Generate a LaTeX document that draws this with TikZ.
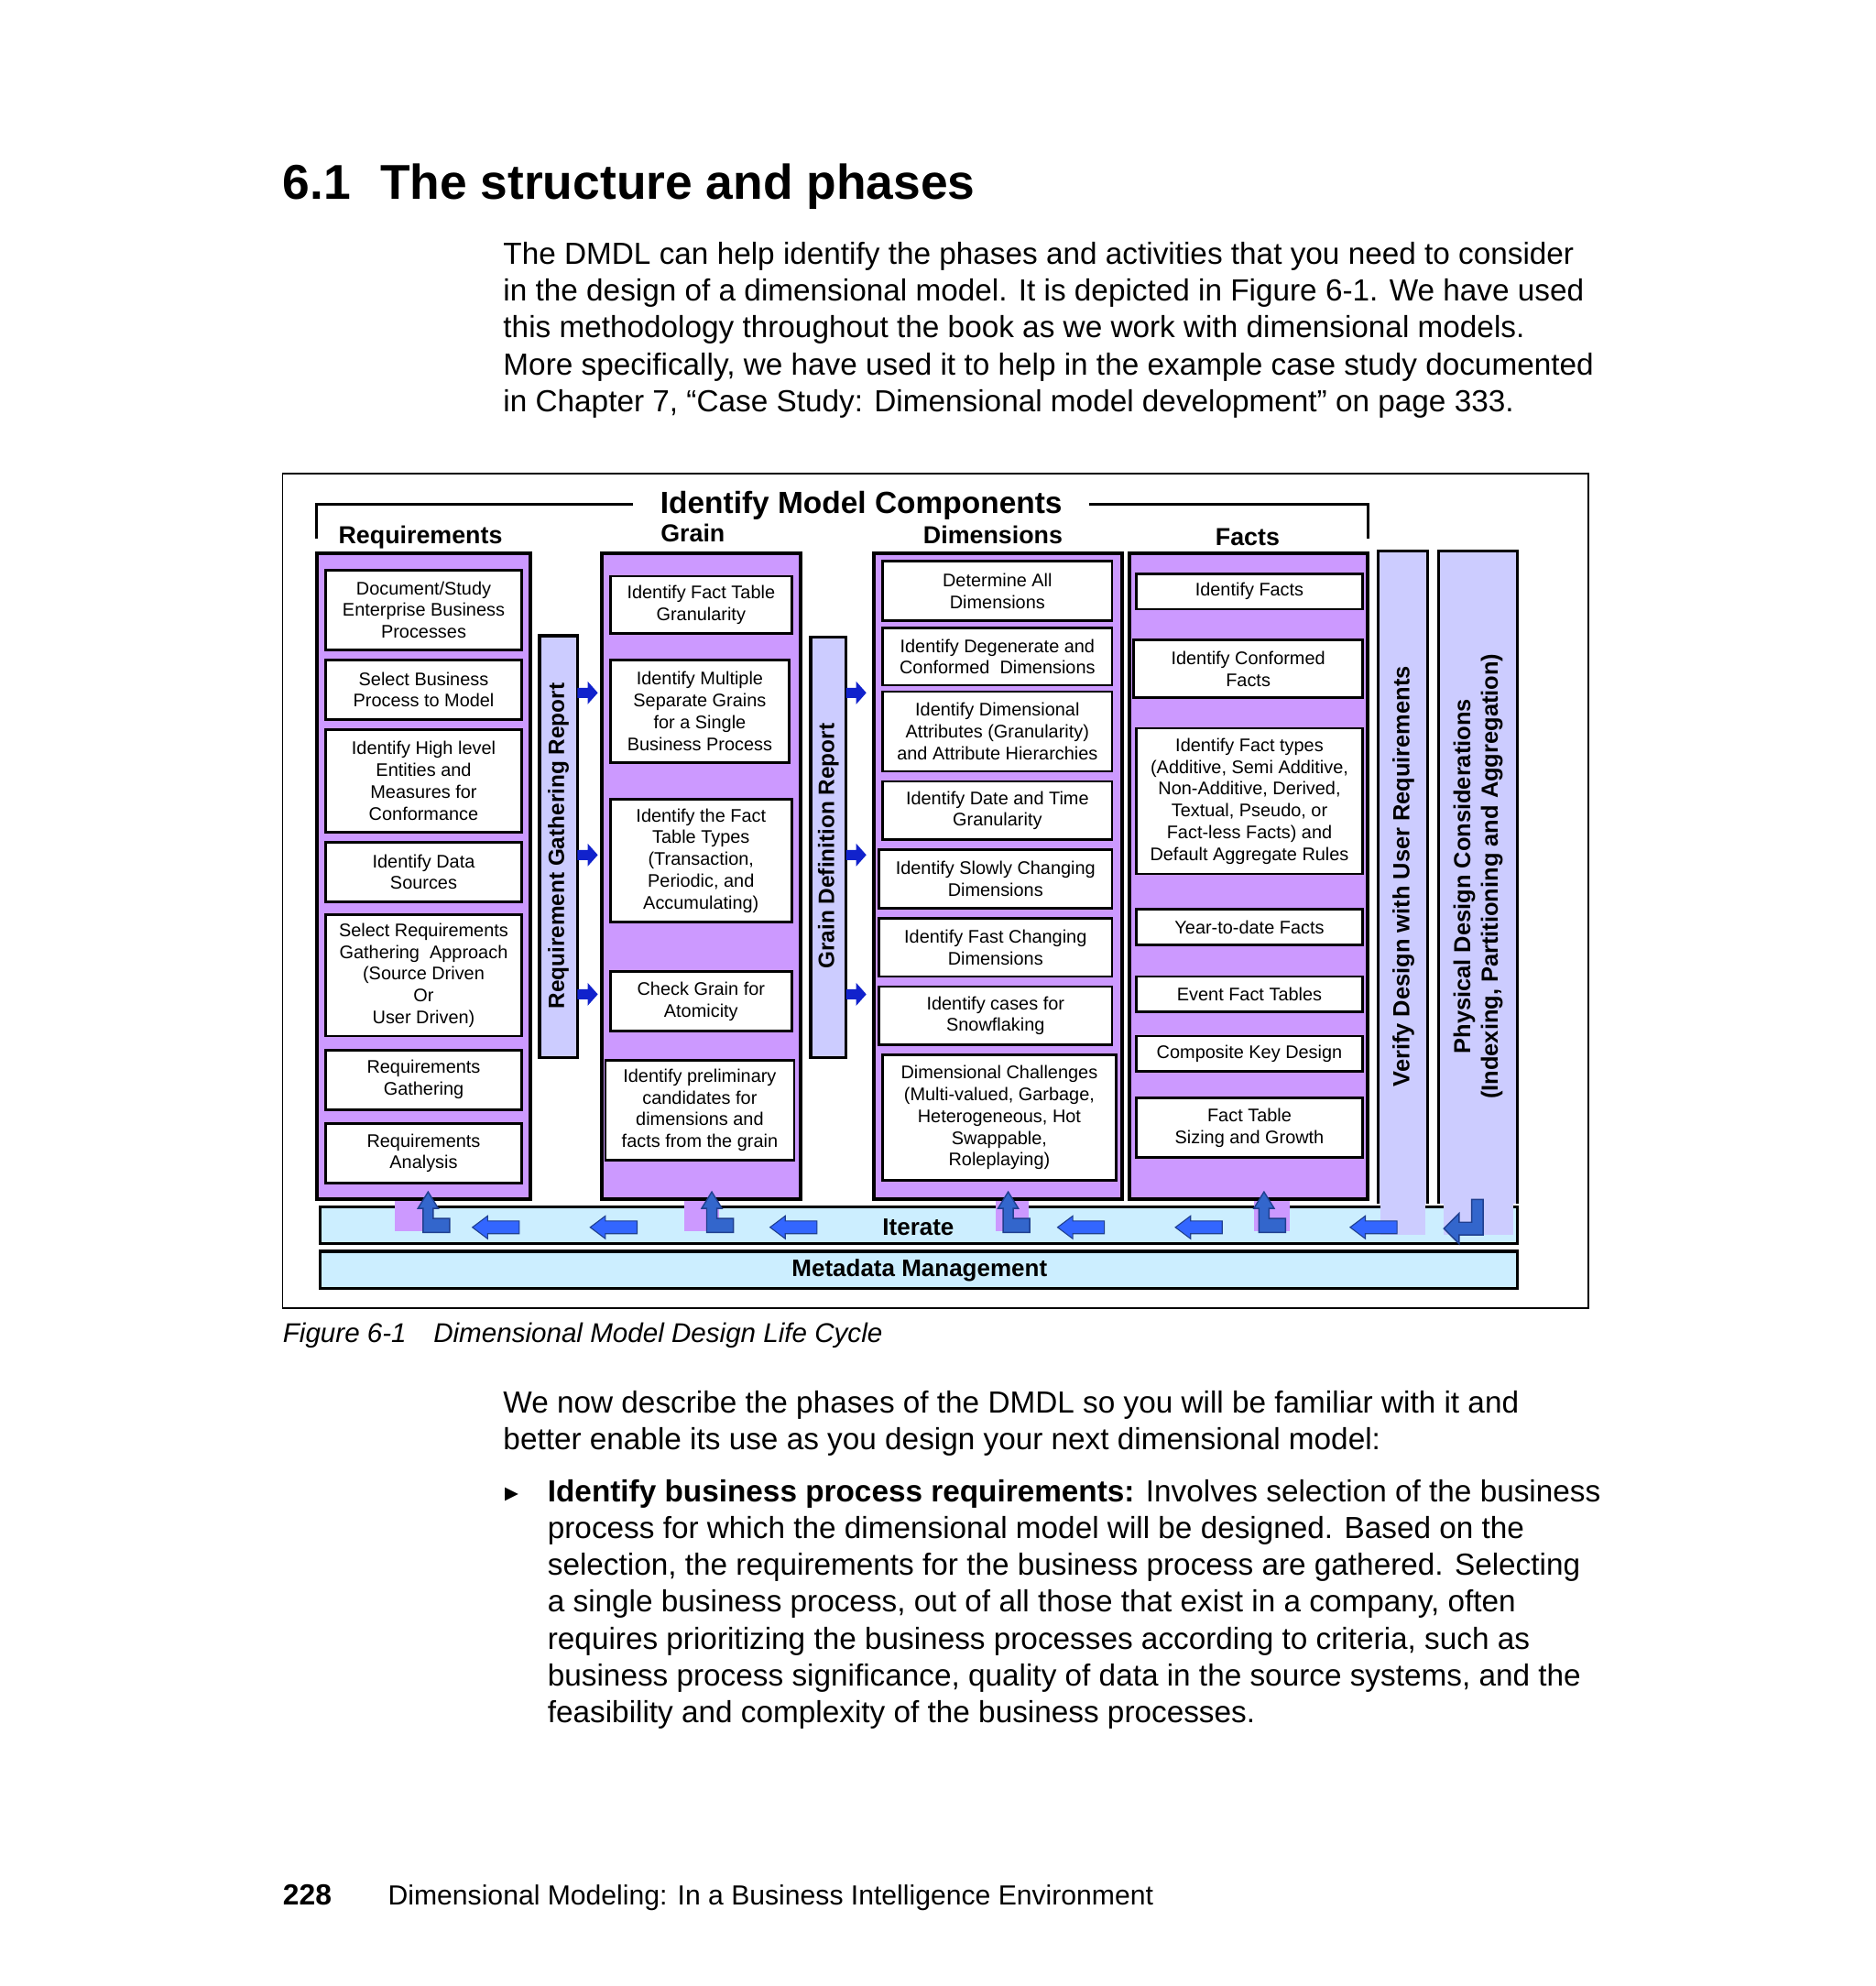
\documentclass[tikz,border=0pt]{standalone}
\usepackage{fontspec}
\setmainfont{Liberation Sans}
\newfontfamily\symf{DejaVu Sans}
\begin{document}
\begin{tikzpicture}[x=0.5pt,y=-0.5pt,
  col/.style={draw=black,line width=1.4pt,fill=purp},
  bar/.style={draw=black,line width=1.2pt,fill=lav},
  bxs/.style={draw=black,line width=1pt,fill=white},
  bt/.style={font=\fontsize{7.2}{8.6}\selectfont,align=center,inner sep=0pt},
  hd/.style={font=\fontsize{9.7}{10}\selectfont\bfseries,inner sep=0pt},
  vt/.style={font=\fontsize{8.8}{10}\selectfont\bfseries,rotate=90,align=center,inner sep=0pt},
  body/.style={font=\fontsize{12.05}{14.5}\selectfont,align=left,anchor=north west,inner sep=0pt},
  larr/.style={fill=arrb,draw=arrd,line width=0.4pt},
  larrL/.style={fill=arrL,draw=arrd,line width=0.5pt},
  rarr/.style={fill=darkb,draw=none}]
\definecolor{purp}{HTML}{CC99FF}
\definecolor{lav}{HTML}{CCCCFF}
\definecolor{lblue}{HTML}{CCEEFF}
\definecolor{arrb}{HTML}{3366FF}
\definecolor{arrL}{HTML}{3366CC}
\definecolor{arrd}{HTML}{1F3F8F}
\definecolor{darkb}{HTML}{1122CC}
\useasboundingbox (0,0) rectangle (1481,1568);
\fill[white] (0,0) rectangle (1481,1568);
% title and text
\node[anchor=base west,inner sep=0pt,font=\fontsize{19.3}{22}\selectfont\bfseries] (title) at (223,157) {6.1\hspace{0.6em}The structure and phases};
\node[body] (p1) at (397,191) {The DMDL can help identify the phases and activities that you need to consider\\in the design of a dimensional model. It is depicted in Figure 6-1. We have used\\this methodology throughout the book as we work with dimensional models.\\More specifically, we have used it to help in the example case study documented\\in Chapter 7, “Case Study: Dimensional model development” on page 333.};
% frame
\draw[line width=0.6pt] (223,374) rectangle (1254,1033);
\draw[line width=1pt] (250,425) -- (250,398) -- (500,398);
\draw[line width=1pt] (860,398) -- (1080,398) -- (1080,425);
\node[inner sep=0pt,font=\fontsize{12.1}{13}\selectfont\bfseries] (imc) at (680,399) {Identify Model Components};
\node[hd] (hreq) at (332,424) {Requirements};
\node[hd] (hgr) at (547,421) {Grain};
\node[hd] (hdim) at (784,422) {Dimensions};
\node[hd] (hfact) at (985,424) {Facts};
% iterate & metadata bars
\draw[line width=1.2pt,fill=lblue] (253,953) rectangle (1198,982);
\draw[line width=1.2pt,fill=lblue] (253,988) rectangle (1198,1017);
\node[inner sep=0pt,font=\fontsize{9.4}{10}\selectfont\bfseries] (iter) at (725,969) {Iterate};
\node[inner sep=0pt,font=\fontsize{9.4}{10}\selectfont\bfseries] (meta) at (726,1003) {Metadata Management};
% stubs
\fill[purp] (312,945) rectangle (340,972);
\fill[purp] (540,945) rectangle (568,972);
\fill[purp] (786,945) rectangle (812,972);
\fill[purp] (990,945) rectangle (1018,972);
\fill[lav] (1090,945) rectangle (1125,975);
\fill[lav] (1140,945) rectangle (1195,975);
% columns
\draw[col] (250,437) rectangle (419,947);
\draw[col] (475,437) rectangle (632,947);
\draw[col] (690,437) rectangle (886,947);
\draw[col] (892,437) rectangle (1080,947);
\fill[lav] (1089,436) rectangle (1126,950);
\draw[line width=1.2pt] (1088,950) -- (1088,435) -- (1127,435) -- (1127,950);
\fill[lav] (1137,436) rectangle (1197,950);
\draw[line width=1.2pt] (1136,950) -- (1136,435) -- (1198,435) -- (1198,950);
\draw[bar] (426,502) rectangle (456,835);
\draw[bar] (640,503) rectangle (668,835);
\node[vt] (rgr) at (441,668) {Requirement Gathering Report};
\node[vt] (gdr) at (654,668) {Grain Definition Report};
\node[vt,font=\fontsize{9.2}{10}\selectfont\bfseries] (vdu) at (1108,692) {Verify Design with User Requirements};
\node[vt,font=\fontsize{9.2}{10.8}\selectfont\bfseries] (pdc) at (1167,692) {Physical Design Considerations\\(Indexing, Partitioning and Aggregation)};
% boxes
\newcommand\bx[6]{\draw[bxs] (#2,#3) rectangle (#4,#5); \node[bt] (#1) at ({(#2+#4)/2},{(#3+#5)/2}) {#6};}
\bx{r1}{257}{450}{412}{513}{Document/Study\\Enterprise Business\\Processes}
\bx{r2}{257}{521}{412}{568}{Select Business\\Process to Model}
\bx{r3}{257}{576}{412}{657}{Identify High level\\Entities and\\Measures for\\Conformance}
\bx{r4}{257}{665}{412}{712}{Identify Data\\Sources}
\bx{r5}{257}{722}{412}{818}{Select Requirements\\Gathering\ \ Approach\\(Source Driven\\Or\\User Driven)}
\bx{r6}{257}{829}{412}{876}{Requirements\\Gathering}
\bx{r7}{257}{887}{412}{934}{Requirements\\Analysis}
\bx{g1}{482}{455}{625}{500}{Identify Fact Table\\Granularity}
\bx{g2}{482}{521}{623}{602}{Identify Multiple\\Separate Grains\\for a Single\\Business Process}
\bx{g3}{482}{631}{625}{728}{Identify the Fact\\Table Types\\(Transaction,\\Periodic, and\\Accumulating)}
\bx{g4}{482}{767}{625}{814}{Check Grain for\\Atomicity}
\bx{g5}{478}{837}{627}{916}{Identify preliminary\\candidates for\\dimensions and\\facts from the grain}
\bx{d1}{697}{443}{878}{490}{Determine All\\Dimensions}
\bx{d2}{697}{496}{878}{541}{Identify Degenerate and\\Conformed\ \ Dimensions}
\bx{d3}{697}{546}{878}{609}{Identify Dimensional\\Attributes (Granularity)\\and Attribute Hierarchies}
\bx{d4}{697}{617}{878}{663}{Identify Date and Time\\Granularity}
\bx{d5}{694}{671}{878}{717}{Identify Slowly Changing\\Dimensions}
\bx{d6}{694}{725}{878}{771}{Identify Fast Changing\\Dimensions}
\bx{d7}{694}{779}{878}{825}{Identify cases for\\Snowflaking}
\bx{d8}{697}{833}{881}{932}{Dimensional Challenges\\(Multi-valued, Garbage,\\Heterogeneous, Hot\\Swappable,\\Roleplaying)}
\bx{f1}{897}{453}{1076}{481}{Identify Facts}
\bx{f2}{895}{505}{1076}{551}{Identify Conformed\\Facts}
\bx{f3}{897}{575}{1076}{690}{Identify Fact types\\(Additive, Semi Additive,\\Non-Additive, Derived,\\Textual, Pseudo, or\\Fact-less Facts) and\\Default Aggregate Rules}
\bx{f4}{897}{718}{1076}{746}{Year-to-date Facts}
\bx{f5}{897}{771}{1076}{799}{Event Fact Tables}
\bx{f6}{897}{818}{1076}{846}{Composite Key Design}
\bx{f7}{897}{867}{1076}{914}{Fact Table\\Sizing and Growth}
% right arrows
\newcommand\rar[2]{\fill[rarr] (#1,#2-4) -- (#1+8,#2-4) -- (#1+8,#2-9) -- (#1+16,#2) -- (#1+8,#2+9) -- (#1+8,#2+4) -- (#1,#2+4) -- cycle;}
\rar{456}{547}\rar{456}{675}\rar{456}{785}
\rar{668}{547}\rar{668}{675}\rar{668}{785}
% left arrows
\newcommand\lar[2]{\draw[larr] (#1-18,#2) -- (#1-6,#2-9) -- (#1-6,#2-5) -- (#1+19,#2-5) -- (#1+19,#2+5) -- (#1-6,#2+5) -- (#1-6,#2+9) -- cycle;}
\lar{391}{969}\lar{484}{969}\lar{626}{969}\lar{853}{969}\lar{946}{969}\lar{1084}{969}
% up L arrows
\newcommand\uar[2]{\draw[larrL] (#1,#2) -- (#1+8,#2+13) -- (#1+4,#2+13) -- (#1+4,#2+21) -- (#1+17,#2+21) -- (#1+17,#2+32) -- (#1-4,#2+32) -- (#1-4,#2+13) -- (#1-8,#2+13) -- cycle;}
\uar{338}{941}\uar{562}{941}\uar{796}{941}\uar{998}{941}
\draw[larrL] (1162,947) -- (1171,947) -- (1171,975) -- (1152,975) -- (1152,982) -- (1140,970) -- (1152,958) -- (1152,965) -- (1162,965) -- cycle;
% caption
\node[anchor=base west,inner sep=0pt,font=\fontsize{10.7}{12}\selectfont\itshape] (cap) at (223,1060) {Figure 6-1\hspace{1em}Dimensional Model Design Life Cycle};
\node[body] (p2) at (397,1098) {We now describe the phases of the DMDL so you will be familiar with it and\\better enable its use as you design your next dimensional model:};
\node[inner sep=0pt,font=\fontsize{7}{8}\selectfont\symf] (bul) at (404,1180) {▶};
\node[body] (p3) at (432,1168) {\textbf{Identify business process requirements:} Involves selection of the business\\process for which the dimensional model will be designed. Based on the\\selection, the requirements for the business process are gathered. Selecting\\a single business process, out of all those that exist in a company, often\\requires prioritizing the business processes according to criteria, such as\\business process significance, quality of data in the source systems, and the\\feasibility and complexity of the business processes.};
\node[anchor=base west,inner sep=0pt,font=\fontsize{11.5}{13}\selectfont\bfseries] (pg) at (223,1504) {228};
\node[anchor=base west,inner sep=0pt,font=\fontsize{10.9}{13}\selectfont] (foot) at (306,1504) {Dimensional Modeling: In a Business Intelligence Environment};
\end{tikzpicture}
\end{document}
